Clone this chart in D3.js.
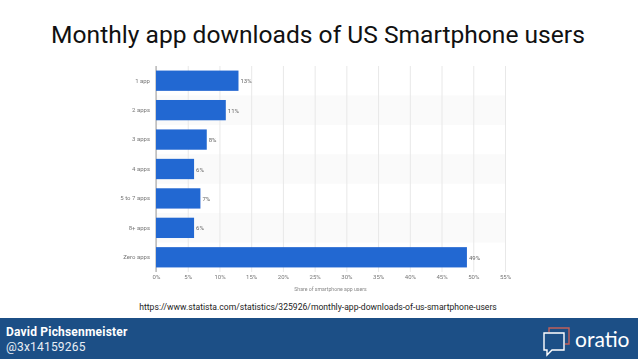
<!DOCTYPE html>
<html>
<head>
<meta charset="utf-8">
<script src="https://cdn.jsdelivr.net/npm/d3@7"></script>
<style>
  html, body { margin: 0; padding: 0; background: #fff; }
  svg { display: block; }
  text { font-family: Roboto, sans-serif; }
  .domain { display: none; }
</style>
</head>
<body>
<svg width="638" height="359"></svg>
<script>
var categories = ['1 app', '2 apps', '3 apps', '4 apps', '5 to 7 apps', '8+ apps', 'Zero apps'];
var shares = [13, 11, 8, 6, 7, 6, 49];
var xTicks = [0, 5, 10, 15, 20, 25, 30, 35, 40, 45, 50, 55];

var titleText = 'Monthly app downloads of US Smartphone users';
var sourceText = 'https://www.statista.com/statistics/325926/monthly-app-downloads-of-us-smartphone-users';
var axisTitle = 'Share of smartphone app users';
var authorName = 'David Pichsenmeister';
var authorHandle = '@3x14159265';
var brandName = 'oratio';

// plot area inside the svg
var margin = { top: 66, left: 156 };
var chartWidth = 349, chartHeight = 206;

var svg = d3.select('svg');

// the reference is a scaled up screenshot, so the chart is a bit soft
svg.append('defs').append('filter')
  .attr('id', 'soft')
  .attr('x', '-5%').attr('y', '-5%').attr('width', '110%').attr('height', '110%')
  .append('feGaussianBlur')
  .attr('stdDeviation', 0.5);

svg.append('text')
  .attr('x', 318)
  .attr('y', 43)
  .attr('text-anchor', 'middle')
  .attr('font-size', '24.6px')
  .attr('fill', '#111')
  .text(titleText);

var x = d3.scaleLinear().domain([0, 55]).range([0, chartWidth]);
var y = d3.scaleBand().domain(categories).range([0, chartHeight]).paddingInner(0.31).paddingOuter(0.155);

var g = svg.append('g')
  .attr('transform', 'translate(' + margin.left + ',' + margin.top + ')')
  .attr('filter', 'url(#soft)');

// alternating row stripes
g.selectAll('.stripe')
  .data(categories.filter(function (d, i) { return i % 2 === 1; }))
  .enter()
  .append('rect')
  .attr('class', 'stripe')
  .attr('x', 0)
  .attr('y', function (d) { return y(d) - y.step() * y.paddingInner() / 2; })
  .attr('width', chartWidth)
  .attr('height', y.step())
  .attr('fill', '#fafafa');

// x axis with gridlines
var xAxis = g.append('g')
  .attr('transform', 'translate(0,' + chartHeight + ')')
  .call(d3.axisBottom(x).tickValues(xTicks).tickSize(-chartHeight).tickPadding(3)
    .tickFormat(function (d) { return d + '%'; }));
xAxis.selectAll('line').attr('stroke', '#e8e8e8');
xAxis.selectAll('text').attr('font-size', '6px').attr('fill', '#777');

// y axis
var yAxis = g.append('g')
  .call(d3.axisLeft(y).tickSize(0).tickPadding(6));
yAxis.selectAll('text').attr('font-size', '6px').attr('fill', '#777');

g.append('line')
  .attr('y1', 0)
  .attr('y2', chartHeight)
  .attr('stroke', '#888')
  .attr('stroke-width', 0.8);

g.selectAll('.bar')
  .data(shares)
  .enter()
  .append('rect')
  .attr('class', 'bar')
  .attr('x', 0)
  .attr('y', function (d, i) { return y(categories[i]); })
  .attr('width', function (d) { return x(d); })
  .attr('height', y.bandwidth())
  .attr('fill', '#2468d2');

g.selectAll('.label')
  .data(shares)
  .enter()
  .append('text')
  .attr('class', 'label')
  .attr('x', function (d) { return x(d) + 2; })
  .attr('y', function (d, i) { return y(categories[i]) + y.bandwidth() / 2 + 2.5; })
  .attr('font-size', '6px')
  .attr('fill', '#666')
  .text(function (d) { return d + '%'; });

g.append('text')
  .attr('x', chartWidth / 2)
  .attr('y', chartHeight + 19)
  .attr('text-anchor', 'middle')
  .attr('font-size', '5.2px')
  .attr('fill', '#888')
  .text(axisTitle);

svg.append('text')
  .attr('x', 318)
  .attr('y', 310)
  .attr('text-anchor', 'middle')
  .attr('font-size', '8.6px')
  .attr('fill', '#222')
  .text(sourceText);

// footer
svg.append('rect')
  .attr('x', 0).attr('y', 318)
  .attr('width', 638).attr('height', 41)
  .attr('fill', '#1c4f86');

svg.append('text')
  .attr('x', 6).attr('y', 336)
  .attr('font-size', '12px')
  .attr('font-weight', 700)
  .attr('letter-spacing', '0.2px')
  .attr('fill', '#fff')
  .text(authorName);

svg.append('text')
  .attr('x', 6).attr('y', 351)
  .attr('font-size', '12px')
  .attr('letter-spacing', '0.2px')
  .attr('fill', '#e8eef5')
  .text(authorHandle);

// logo: red back bubble, white front bubble
var logo = svg.append('g').attr('fill', 'none').attr('stroke-width', 1.4);
logo.append('path')
  .attr('d', 'M549 332 V328 H569 V344 H565')
  .attr('stroke', '#c0605a');
logo.append('path')
  .attr('d', 'M544 333 H564 V350 H552 L547 355 V350 H544 Z')
  .attr('stroke', '#fff');

svg.append('text')
  .attr('x', 575).attr('y', 347)
  .style('font-family', 'Lato, sans-serif')
  .attr('font-size', '21px')
  .attr('fill', '#fff')
  .text(brandName);
</script>
</body>
</html>
